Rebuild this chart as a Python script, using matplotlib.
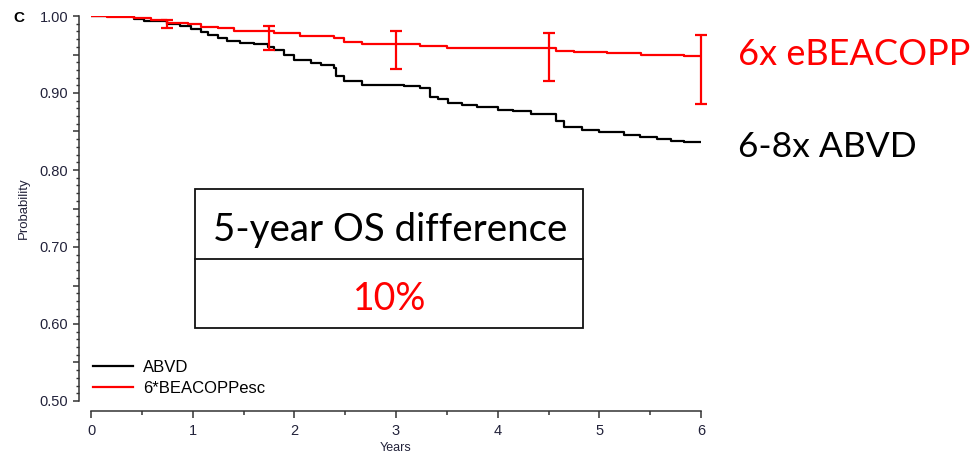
import numpy as np
import matplotlib
matplotlib.use("Agg")
import matplotlib.pyplot as plt
from matplotlib.ticker import MultipleLocator, FuncFormatter
from matplotlib.patches import Rectangle

# ---- data ----
abvd_t = [0, 0.42, 0.52, 0.75, 0.88, 0.98, 1.08, 1.15, 1.25, 1.34,
          1.47, 1.60, 1.74, 1.80, 1.90, 2.00, 2.16, 2.26, 2.39, 2.41,
          2.49, 2.67, 3.08, 3.24, 3.33, 3.41, 3.51, 3.65, 3.80, 4.00,
          4.15, 4.33, 4.57, 4.65, 4.83, 5.00, 5.24, 5.40, 5.57, 5.70,
          5.83, 6.00]
abvd_s = [1.000, 0.996, 0.993, 0.990, 0.987, 0.983, 0.979, 0.975, 0.972, 0.968,
          0.965, 0.963, 0.960, 0.956, 0.950, 0.943, 0.939, 0.936, 0.932, 0.922,
          0.915, 0.911, 0.909, 0.906, 0.895, 0.892, 0.887, 0.885, 0.882, 0.878,
          0.876, 0.873, 0.864, 0.856, 0.852, 0.850, 0.846, 0.843, 0.840, 0.838,
          0.836, 0.836]

beacopp_t = [0, 0.16, 0.42, 0.59, 0.75, 0.95, 1.08, 1.25, 1.41, 1.80,
             2.06, 2.39, 2.49, 2.67, 3.24, 3.50, 4.00, 4.57, 4.75, 5.08,
             5.41, 5.83, 6.00]
beacopp_s = [1.000, 0.999, 0.998, 0.995, 0.991, 0.989, 0.986, 0.984, 0.981, 0.978,
             0.974, 0.971, 0.966, 0.964, 0.961, 0.959, 0.958, 0.955, 0.953, 0.952,
             0.949, 0.948, 0.948]

ci_t = [0.75, 1.75, 3.0, 4.5, 6.0]
ci_lower = [0.984, 0.956, 0.931, 0.916, 0.886]
ci_upper = [0.995, 0.987, 0.980, 0.978, 0.975]

legend_labels = ["ABVD", "6*BEACOPPesc"]
right_labels = ["6x eBEACOPP", "6-8x ABVD"]
box_title = "5-year OS difference"
box_value = "10%"

# ---- figure ----
W, H = 977, 455
PX = 72 / 100  # points per pixel
fig = plt.figure(figsize=(W / 100, H / 100), dpi=100)
ax = fig.add_axes([91 / W, (H - 401) / H, (701 - 91) / W, (401 - 16) / H])

base_font = ["Liberation Sans", "DejaVu Sans"]
calibri_like = ["Lato", "DejaVu Sans"]

ax.step(abvd_t, abvd_s, where="post", color="black", lw=1.6, label=legend_labels[0])
ax.step(beacopp_t, beacopp_s, where="post", color="#ff0000", lw=1.6, label=legend_labels[1])

# confidence bars on the red curve
centers = [beacopp_s[np.searchsorted(beacopp_t, t, side="right") - 1] for t in ci_t]
yerr = [np.array(centers) - np.array(ci_lower), np.array(ci_upper) - np.array(centers)]
ax.errorbar(ci_t, centers, yerr=yerr, fmt="none", ecolor="#ff0000", elinewidth=1.6,
            capsize=4.5, capthick=1.6, clip_on=False, zorder=3)

ax.set_xlim(0, 6)
ax.set_ylim(0.5, 1.0)

for s in ["top", "right"]:
    ax.spines[s].set_visible(False)
ax.spines["left"].set_position(("outward", 12 * PX))
ax.spines["bottom"].set_position(("outward", 10 * PX))
for s in ["left", "bottom"]:
    ax.spines[s].set_linewidth(1.1)
    ax.spines[s].set_color("#333333")

ax.xaxis.set_major_locator(MultipleLocator(1))
ax.xaxis.set_minor_locator(MultipleLocator(0.5))
ax.yaxis.set_major_locator(MultipleLocator(0.05))
ax.yaxis.set_minor_locator(MultipleLocator(0.01))
ax.yaxis.set_major_formatter(FuncFormatter(
    lambda v, p: f"{v:.2f}" if abs(round(v * 10) - v * 10) < 1e-6 else ""))
ax.xaxis.set_major_formatter(FuncFormatter(lambda v, p: f"{v:.0f}"))

ax.tick_params(axis="x", which="major", length=7 * PX, width=1.1, color="#333333", pad=4)
ax.tick_params(axis="x", which="minor", length=4 * PX, width=1.1, color="#333333")
ax.tick_params(axis="y", which="major", length=6 * PX, width=1.1, color="#333333", pad=3.5)
ax.tick_params(axis="y", which="minor", length=3 * PX, width=1.0, color="#333333")
for lab in ax.get_xticklabels() + ax.get_yticklabels():
    lab.set_family(base_font)
    lab.set_fontsize(10.5)
    lab.set_color("#22223a")

ax.set_xlabel("Years", family=base_font, fontsize=9, color="#22223a", labelpad=3)
ax.set_ylabel("Probability", family=base_font, fontsize=9.5, color="#22223a", labelpad=7)

fig.text(18.5 / W, 1 - 18.5 / H, "C", family=base_font, fontsize=11, fontweight="bold",
         ha="center", va="center")

leg = ax.legend(loc="center left", bbox_to_anchor=(93 / W, (H - 378) / H),
                bbox_transform=fig.transFigure, frameon=False, borderpad=0,
                borderaxespad=0, handlelength=2.4, handletextpad=0.6,
                labelspacing=0.35, prop={"family": base_font, "size": 12})

# annotation box
def px_to_data(xp, yp):
    return (xp - 91) / (610 / 6), 1.0 - (yp - 16) / 770

x0, y0 = px_to_data(195, 328)
x1, y1 = px_to_data(583, 189)
_, ym = px_to_data(0, 259)
ax.add_patch(Rectangle((x0, y0), x1 - x0, y1 - y0, fill=False, ec="#111111", lw=1.3,
                       clip_on=False, zorder=4))
ax.plot([x0, x1], [ym, ym], color="#111111", lw=1.3, clip_on=False, zorder=4)
cx, by = px_to_data(390, 241)
ax.text(cx, by, box_title, ha="center", va="baseline", family=calibri_like,
        fontsize=27.7, color="black")
cx, by = px_to_data(390, 310)
ax.text(cx, by, box_value, ha="center", va="baseline", family=calibri_like,
        fontsize=27, color="#ff0000")

lx, by = px_to_data(738, 65)
ax.text(lx, by, right_labels[0], ha="left", va="baseline", family=calibri_like,
        fontsize=26, color="#ff0000", clip_on=False)
lx, by = px_to_data(738, 156.7)
ax.text(lx, by, right_labels[1], ha="left", va="baseline", family=calibri_like,
        fontsize=25.5, color="black", clip_on=False)

fig.savefig("out.png", dpi=100, facecolor="white")
